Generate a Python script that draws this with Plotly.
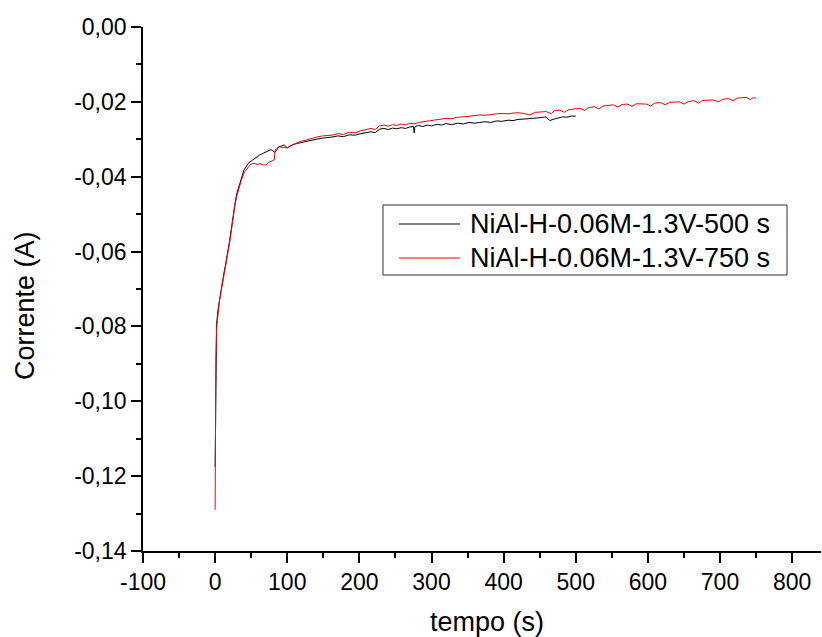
import plotly.graph_objects as go

# Chronoamperometry data
t_500 = [0, 0.5, 1, 2, 4, 6, 8, 10, 12, 14, 16, 18, 20, 22, 24, 26, 28, 30, 33, 36,
         40, 44, 47, 50, 54, 58, 62, 66, 70, 74, 77, 80, 82, 85, 88, 92, 96, 100, 104, 108,
         114, 120, 126, 133, 140, 149, 156, 162, 170, 178, 186, 194, 202, 209, 216, 222, 228, 234, 240, 246,
         252, 258, 264, 270, 275, 276, 277, 282, 288, 294, 300, 308, 314, 320, 328, 336, 344, 352, 360, 367,
         374, 382, 390, 398, 406, 413, 420, 428, 436, 444, 452, 459, 464, 470, 476, 482, 488, 494, 500]
i_500 = [-0.1175, -0.098, -0.087, -0.0795, -0.0755, -0.0728, -0.0705, -0.0685, -0.0660, -0.0640,
         -0.0620, -0.0596, -0.0572, -0.0545, -0.0516, -0.0490, -0.0466, -0.0445, -0.0425, -0.0405,
         -0.0382, -0.0370, -0.0362, -0.0358, -0.0352, -0.0347, -0.0342, -0.0338, -0.0334, -0.0331,
         -0.0328, -0.0330, -0.0335, -0.0330, -0.0320, -0.0318, -0.0315, -0.0323, -0.0318, -0.0314,
         -0.0311, -0.0308, -0.0305, -0.0302, -0.0300, -0.0297, -0.0296, -0.0294, -0.0291, -0.0293,
         -0.0288, -0.0289, -0.0285, -0.0283, -0.0280, -0.0282, -0.0273, -0.0271, -0.0274, -0.0270,
         -0.0272, -0.0269, -0.0271, -0.0267, -0.0266, -0.0283, -0.0266, -0.0263, -0.0266, -0.0262,
         -0.0264, -0.0260, -0.0262, -0.0258, -0.0261, -0.0257, -0.0259, -0.0255, -0.0257, -0.0255,
         -0.0253, -0.0255, -0.0251, -0.0252, -0.0249, -0.0250, -0.0247, -0.0246, -0.0245, -0.0243,
         -0.0242, -0.0240, -0.0250, -0.0246, -0.0242, -0.0240, -0.0241, -0.0238, -0.0238]

t_750 = [0, 0.5, 1, 2, 4, 6, 8, 10, 12, 14, 16, 18, 20, 22, 24, 26, 28, 30, 33, 36,
         40, 44, 47, 50, 54, 58, 62, 66, 70, 74, 77, 80, 82, 83, 86, 89, 94, 100, 106, 112,
         118, 126, 133, 141, 149, 156, 162, 170, 178, 186, 194, 202, 209, 216, 222, 228, 234, 240, 246, 252,
         258, 264, 270, 276, 282, 290, 298, 306, 314, 320, 328, 336, 344, 352, 360, 367, 374, 382, 390, 398,
         406, 413, 420, 428, 436, 444, 452, 459, 466, 470, 478, 484, 490, 498, 506, 512, 518, 526, 532, 538,
         546, 552, 558, 564, 572, 578, 584, 592, 598, 604, 610, 618, 624, 630, 638, 644, 650, 656, 664, 670,
         676, 684, 691, 698, 704, 712, 718, 724, 730, 737, 742, 746, 750]
i_750 = [-0.129, -0.102, -0.089, -0.0805, -0.0760, -0.0732, -0.0710, -0.0690, -0.0668, -0.0648,
         -0.0625, -0.0600, -0.0578, -0.0550, -0.0520, -0.0498, -0.0470, -0.0452, -0.0428, -0.0412,
         -0.0390, -0.0378, -0.0372, -0.0366, -0.0364, -0.0367, -0.0365, -0.0368, -0.0369, -0.0362,
         -0.0360, -0.0356, -0.0355, -0.0329, -0.0325, -0.0320, -0.0322, -0.0323, -0.0316, -0.0311,
         -0.0306, -0.0302, -0.0298, -0.0294, -0.0291, -0.0290, -0.0289, -0.0285, -0.0287, -0.0281,
         -0.0283, -0.0277, -0.0275, -0.0271, -0.0274, -0.0264, -0.0262, -0.0265, -0.0261, -0.0263,
         -0.0259, -0.0262, -0.0257, -0.0259, -0.0255, -0.0253, -0.0251, -0.0248, -0.0246, -0.0244,
         -0.0245, -0.0241, -0.0240, -0.0238, -0.0237, -0.0235, -0.0236, -0.0233, -0.0232, -0.0231,
         -0.0232, -0.0230, -0.0229, -0.0231, -0.0235, -0.0228, -0.0227, -0.0226, -0.0232, -0.0224,
         -0.0222, -0.0228, -0.0221, -0.0219, -0.0217, -0.0223, -0.0215, -0.0213, -0.0219, -0.0211,
         -0.0209, -0.0208, -0.0214, -0.0207, -0.0206, -0.0212, -0.0205, -0.0205, -0.0206, -0.0211,
         -0.0203, -0.0202, -0.0208, -0.0201, -0.0200, -0.0200, -0.0206, -0.0199, -0.0197, -0.0203,
         -0.0196, -0.0195, -0.0195, -0.0200, -0.0193, -0.0191, -0.0197, -0.0190, -0.0189, -0.0188,
         -0.0194, -0.0189, -0.0190]

series_names = ["NiAl-H-0.06M-1.3V-500 s", "NiAl-H-0.06M-1.3V-750 s"]
series_colors = ["black", "red"]

x_tickvals = [-100, 0, 100, 200, 300, 400, 500, 600, 700, 800]
x_ticktext = ["-100", "0", "100", "200", "300", "400", "500", "600", "700", "800"]
y_tickvals = [0, -0.02, -0.04, -0.06, -0.08, -0.10, -0.12, -0.14]
y_ticktext = ["0,00", "-0,02", "-0,04", "-0,06", "-0,08", "-0,10", "-0,12", "-0,14"]

font_name = "Liberation Sans, Arial, sans-serif"

# plot area in pixels (for placing the hand-made legend / titles)
L, R, T, B = 143, 821, 27, 551


def px(xp):
    return (xp - L) / (R - L)


def py(yp):
    return (B - yp) / (B - T)


fig = go.Figure()

fig.add_trace(go.Scatter(x=t_500, y=i_500, mode="lines", name=series_names[0],
                         line=dict(color=series_colors[0], width=1), showlegend=False))
fig.add_trace(go.Scatter(x=t_750, y=i_750, mode="lines", name=series_names[1],
                         line=dict(color=series_colors[1], width=1), showlegend=False))

axis_common = dict(
    showline=True, linecolor="black", linewidth=1.6,
    ticks="outside", ticklen=10, tickwidth=1.6, tickcolor="black",
    showgrid=False, zeroline=False, mirror=False, automargin=False,
    tickfont=dict(family=font_name, size=23, color="black"),
)

fig.update_xaxes(
    **axis_common,
    range=[-100, 840], tickmode="array", tickvals=x_tickvals, ticktext=x_ticktext,
    minor=dict(ticks="outside", ticklen=5, tickwidth=1.6, tickcolor="black", dtick=50, tick0=-50),
)
fig.update_yaxes(
    **axis_common,
    range=[-0.14, 0], tickmode="array", tickvals=y_tickvals, ticktext=y_ticktext,
    minor=dict(ticks="outside", ticklen=5, tickwidth=1.6, tickcolor="black", dtick=0.01, tick0=0),
)

# axis titles
fig.add_annotation(text="tempo (s)", x=px(487), y=py(622), xref="paper", yref="paper",
                   showarrow=False, xanchor="center", yanchor="middle",
                   font=dict(family=font_name, size=27, color="black"))
fig.add_annotation(text="Corrente (A)", x=px(25), y=py(305), xref="paper", yref="paper",
                   showarrow=False, xanchor="center", yanchor="middle", textangle=-90,
                   font=dict(family=font_name, size=27, color="black"))

# legend box drawn by hand to match the long line samples
fig.add_shape(type="rect", xref="paper", yref="paper",
              x0=px(383), x1=px(787), y0=py(275), y1=py(205),
              line=dict(color="#333333", width=1), fillcolor="white", layer="above")
for k, yy in enumerate([224, 258]):
    fig.add_shape(type="line", xref="paper", yref="paper",
                  x0=px(399), x1=px(460), y0=py(yy), y1=py(yy),
                  line=dict(color=series_colors[k], width=1), layer="above")
    fig.add_annotation(text=series_names[k], x=px(468), y=py(yy), xref="paper", yref="paper",
                       showarrow=False, xanchor="left", yanchor="middle",
                       font=dict(family=font_name, size=27, color="black"))

fig.update_layout(
    width=822, height=637,
    margin=dict(l=L, r=822 - R, t=T, b=637 - B),
    paper_bgcolor="white", plot_bgcolor="white",
    font=dict(family=font_name, color="black"),
    showlegend=False,
)

# drop the page's default body margin so the figure sits at the window origin
fig.write_html("out.html", config={"displayModeBar": False},
               post_script="document.body.style.margin='0px';")
